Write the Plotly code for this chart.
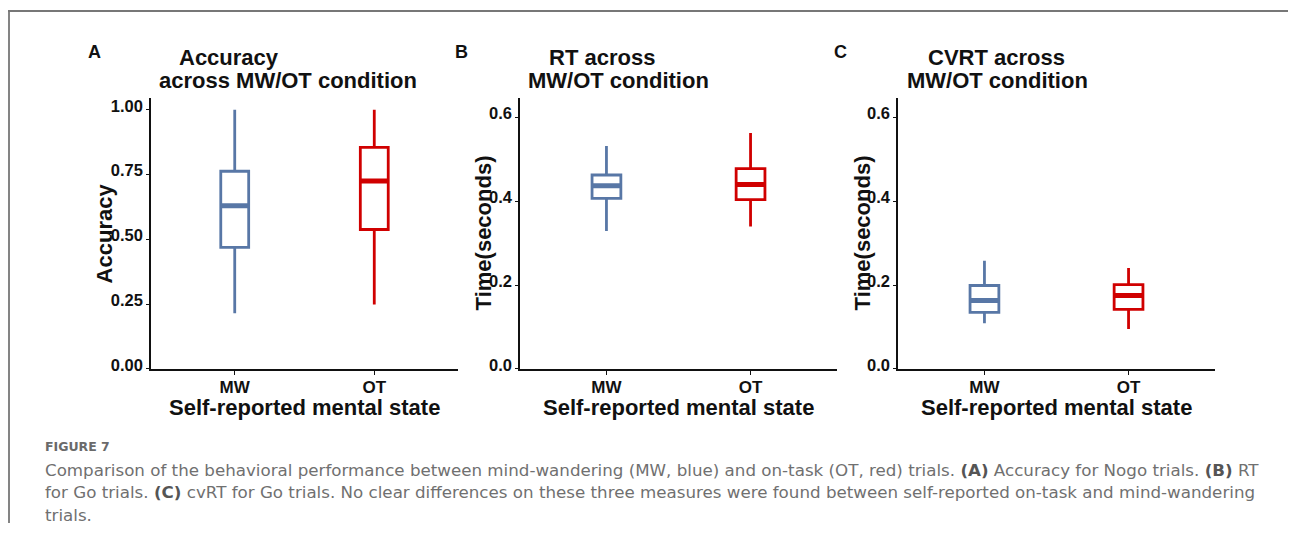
import plotly.graph_objects as go

# ---------------- data ----------------
categories = ["MW", "OT"]
colors = ["#5877a6", "#d00000"]

acc_lower = [0.215, 0.248]
acc_q1 = [0.469, 0.538]
acc_median = [0.630, 0.725]
acc_q3 = [0.763, 0.855]
acc_upper = [1.00, 1.00]

rt_lower = [0.329, 0.340]
rt_q1 = [0.407, 0.404]
rt_median = [0.437, 0.440]
rt_q3 = [0.463, 0.478]
rt_upper = [0.532, 0.563]

cvrt_lower = [0.109, 0.095]
cvrt_q1 = [0.135, 0.142]
cvrt_median = [0.163, 0.175]
cvrt_q3 = [0.199, 0.201]
cvrt_upper = [0.258, 0.241]

acc_ticks = [0, 0.25, 0.5, 0.75, 1.0]
time_ticks = [0, 0.2, 0.4, 0.6]

# page has an 8px body margin; work in window pixels and convert
OFF = 8
W, H = 1280, 520
FONT = "Liberation Sans, Arial, sans-serif"
CAPFONT = "DejaVu Sans, sans-serif"


def px(x):
    return (x - OFF) / W


def py(y):
    return 1 - (y - OFF) / H


panels = [
    dict(letter="A", stats=(acc_lower, acc_q1, acc_median, acc_q3, acc_upper),
         xdom=(151, 458), yrange=[0, 1.046], ticks=acc_ticks, fmt=".2f",
         ytitle="Accuracy", ytitle_x=104,
         title=[("Accuracy", 229), ("across MW/OT condition", 288)], letter_x=94),
    dict(letter="B", stats=(rt_lower, rt_q1, rt_median, rt_q3, rt_upper),
         xdom=(520, 837), yrange=[0, 0.647], ticks=time_ticks, fmt=".1f",
         ytitle="Time(seconds)", ytitle_x=483,
         title=[("RT across", 602), ("MW/OT condition", 618)], letter_x=461),
    dict(letter="C", stats=(cvrt_lower, cvrt_q1, cvrt_median, cvrt_q3, cvrt_upper),
         xdom=(898, 1215), yrange=[0, 0.647], ticks=time_ticks, fmt=".1f",
         ytitle="Time(seconds)", ytitle_x=862,
         title=[("CVRT across", 996), ("MW/OT condition", 997)], letter_x=840),
]

fig = go.Figure()
annotations = []
BOXW = 0.2

for k, p in enumerate(panels):
    ax = "" if k == 0 else str(k + 1)
    lo, q1, med, q3, up = p["stats"]
    for i, cat in enumerate(categories):
        fig.add_trace(go.Box(
            x=[i], q1=[q1[i]], median=[med[i]], q3=[q3[i]],
            lowerfence=[lo[i]], upperfence=[up[i]],
            width=BOXW, whiskerwidth=0, fillcolor="white",
            line=dict(color=colors[i], width=2.8), boxpoints=False,
            name=cat, xaxis="x" + ax, yaxis="y" + ax, hoverinfo="skip"))
        fig.add_trace(go.Scatter(
            x=[i - BOXW / 2, i + BOXW / 2], y=[med[i], med[i]], mode="lines",
            line=dict(color=colors[i], width=5), xaxis="x" + ax, yaxis="y" + ax,
            hoverinfo="skip", showlegend=False))

    fig.layout["xaxis" + ax] = dict(
        domain=[px(p["xdom"][0]), px(p["xdom"][1])], anchor="y" + ax,
        range=[-0.6, 1.6], tickvals=list(range(len(categories))), ticktext=categories,
        showline=True, linecolor="#111", linewidth=1.6, ticks="outside", ticklen=4,
        tickwidth=1.4, tickcolor="#111", showgrid=False, zeroline=False,
        ticklabelstandoff=-2,
        tickfont=dict(family=FONT, size=17, color="#111", weight="bold"))
    fig.layout["yaxis" + ax] = dict(
        domain=[py(372), py(98)], anchor="x" + ax, range=p["yrange"],
        tickvals=p["ticks"], tickformat=p["fmt"],
        showline=True, linecolor="#111", linewidth=1.6, ticks="outside", ticklen=3,
        tickwidth=1.2, tickcolor="#111", showgrid=False, zeroline=False,
        ticklabelshift=-4, ticklabelstandoff=0,
        tickfont=dict(family=FONT, size=16.5, color="#111", weight="bold"))

    mid_x = (p["xdom"][0] + p["xdom"][1]) / 2
    annotations.append(dict(text="<b>Self-reported mental state</b>", x=px(mid_x), y=py(411),
                            font=dict(family=FONT, size=22, color="#111")))
    annotations.append(dict(text="<b>%s</b>" % p["ytitle"], x=px(p["ytitle_x"]), y=py(235),
                            textangle=-90, font=dict(family=FONT, size=22, color="#111")))
    annotations.append(dict(text="<b>%s</b>" % p["letter"], x=px(p["letter_x"]), y=py(52),
                            font=dict(family=FONT, size=18, color="#111")))
    for j, (t, cx) in enumerate(p["title"]):
        annotations.append(dict(text="<b>%s</b>" % t, x=px(cx), y=py(57 + 23 * j),
                                font=dict(family=FONT, size=22, color="#111")))

for a in annotations:
    a.update(xref="paper", yref="paper", xanchor="center", yanchor="middle", showarrow=False)

caption_lines = [
    "Comparison of the behavioral performance between mind-wandering (MW, blue) and on-task (OT, red) trials. <b style='color:#555'>(A)</b> Accuracy for Nogo trials. <b style='color:#555'>(B)</b> RT",
    "for Go trials. <b style='color:#555'>(C)</b> cvRT for Go trials. No clear differences on these three measures were found between self-reported on-task and mind-wandering",
    "trials.",
]
annotations.append(dict(text="<b>FIGURE 7</b>", x=px(43), y=py(451), xref="paper", yref="paper",
                        xanchor="left", yanchor="middle", showarrow=False,
                        font=dict(family=CAPFONT, size=12.5, color="#6a6a6a")))
for j, line in enumerate(caption_lines):
    annotations.append(dict(text=line, x=px(43), y=py(474 + 23 * j), xref="paper", yref="paper",
                            xanchor="left", yanchor="middle", showarrow=False,
                            font=dict(family=CAPFONT, size=16.7, color="#707070")))

shapes = [
    dict(type="line", xref="paper", yref="paper", x0=0, x1=1, y0=py(10), y1=py(10),
         line=dict(color="#777", width=1.8)),
    dict(type="line", xref="paper", yref="paper", x0=px(9), x1=px(9), y0=py(10), y1=0,
         line=dict(color="#777", width=1.8)),
]

fig.update_layout(width=W, height=H, margin=dict(l=0, r=0, t=0, b=0),
                  paper_bgcolor="white", plot_bgcolor="white", showlegend=False,
                  annotations=annotations, shapes=shapes, boxmode="overlay")

fig.write_html("out.html")
